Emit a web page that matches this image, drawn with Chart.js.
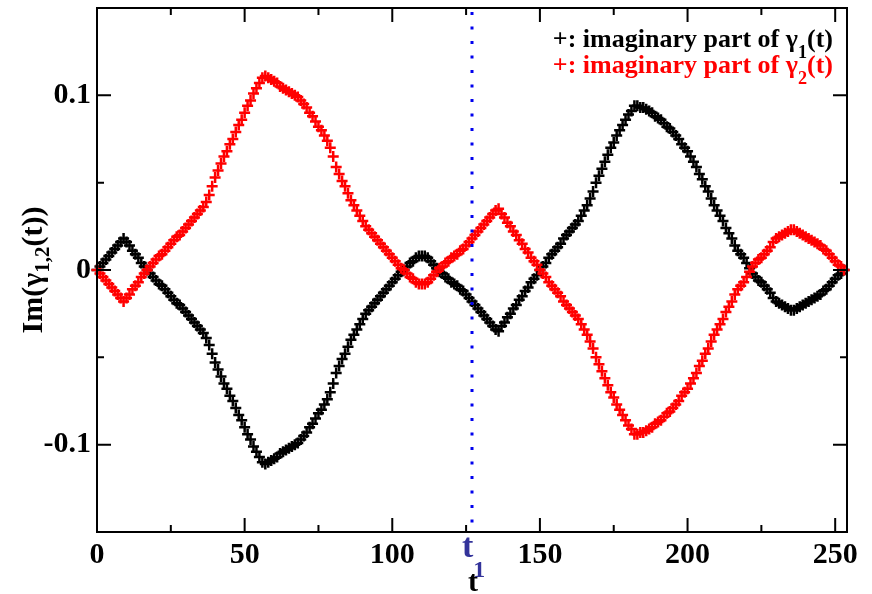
<!DOCTYPE html>
<html>
<head>
<meta charset="utf-8">
<script src="https://cdn.jsdelivr.net/npm/chart.js@4.4.0/dist/chart.umd.min.js"></script>
<title>Im gamma</title>
<style>
    html, body { margin: 0; padding: 0; background: #fff; }
</style>
</head>
<body>
<canvas id="im-chart" width="872" height="594"></canvas>

<script>
    // time steps
    var tSteps = [
        0, 1, 2, 3, 4, 5, 6, 7, 8, 9,
        10, 11, 12, 13, 14, 15, 16, 17, 18, 19,
        20, 21, 22, 23, 24, 25, 26, 27, 28, 29,
        30, 31, 32, 33, 34, 35, 36, 37, 38, 39,
        40, 41, 42, 43, 44, 45, 46, 47, 48, 49,
        50, 51, 52, 53, 54, 55, 56, 57, 58, 59,
        60, 61, 62, 63, 64, 65, 66, 67, 68, 69,
        70, 71, 72, 73, 74, 75, 76, 77, 78, 79,
        80, 81, 82, 83, 84, 85, 86, 87, 88, 89,
        90, 91, 92, 93, 94, 95, 96, 97, 98, 99,
        100, 101, 102, 103, 104, 105, 106, 107, 108, 109,
        110, 111, 112, 113, 114, 115, 116, 117, 118, 119,
        120, 121, 122, 123, 124, 125, 126, 127, 128, 129,
        130, 131, 132, 133, 134, 135, 136, 137, 138, 139,
        140, 141, 142, 143, 144, 145, 146, 147, 148, 149,
        150, 151, 152, 153, 154, 155, 156, 157, 158, 159,
        160, 161, 162, 163, 164, 165, 166, 167, 168, 169,
        170, 171, 172, 173, 174, 175, 176, 177, 178, 179,
        180, 181, 182, 183, 184, 185, 186, 187, 188, 189,
        190, 191, 192, 193, 194, 195, 196, 197, 198, 199,
        200, 201, 202, 203, 204, 205, 206, 207, 208, 209,
        210, 211, 212, 213, 214, 215, 216, 217, 218, 219,
        220, 221, 222, 223, 224, 225, 226, 227, 228, 229,
        230, 231, 232, 233, 234, 235, 236, 237, 238, 239,
        240, 241, 242, 243, 244, 245, 246, 247, 248, 249,
        250, 251, 252, 253
    ];

    // imaginary part of gamma_1(t) (black)
    var imagGamma1 = [
        0.000, 0.002, 0.004, 0.006, 0.008, 0.010, 0.012, 0.014, 0.016, 0.018,
        0.016, 0.014, 0.011, 0.009, 0.007, 0.004, 0.002, 0.000, -0.002, -0.004,
        -0.006, -0.008, -0.009, -0.011, -0.013, -0.015, -0.017, -0.019, -0.020, -0.022,
        -0.024, -0.026, -0.028, -0.030, -0.032, -0.034, -0.036, -0.039, -0.043, -0.048,
        -0.053, -0.057, -0.061, -0.065, -0.068, -0.072, -0.075, -0.079, -0.083, -0.086,
        -0.090, -0.094, -0.097, -0.101, -0.104, -0.107, -0.110, -0.111, -0.110, -0.109,
        -0.108, -0.107, -0.105, -0.104, -0.103, -0.102, -0.101, -0.100, -0.099, -0.097,
        -0.095, -0.093, -0.090, -0.088, -0.085, -0.082, -0.080, -0.077, -0.074, -0.070,
        -0.065, -0.059, -0.055, -0.051, -0.048, -0.044, -0.040, -0.037, -0.034, -0.031,
        -0.028, -0.025, -0.023, -0.021, -0.019, -0.017, -0.015, -0.013, -0.011, -0.009,
        -0.007, -0.005, -0.003, -0.001, 0.000, 0.002, 0.004, 0.005, 0.007, 0.008,
        0.008, 0.008, 0.007, 0.005, 0.003, 0.001, -0.001, -0.002, -0.004, -0.005,
        -0.007, -0.008, -0.009, -0.011, -0.012, -0.014, -0.016, -0.018, -0.020, -0.022,
        -0.024, -0.026, -0.028, -0.030, -0.032, -0.034, -0.035, -0.032, -0.030, -0.027,
        -0.025, -0.022, -0.020, -0.017, -0.015, -0.012, -0.010, -0.007, -0.005, -0.003,
        0.000, 0.002, 0.004, 0.007, 0.009, 0.011, 0.013, 0.015, 0.018, 0.020,
        0.022, 0.024, 0.026, 0.028, 0.031, 0.034, 0.037, 0.041, 0.045, 0.050,
        0.054, 0.058, 0.062, 0.066, 0.070, 0.073, 0.077, 0.080, 0.083, 0.086,
        0.089, 0.091, 0.094, 0.094, 0.093, 0.093, 0.092, 0.091, 0.090, 0.088,
        0.087, 0.086, 0.084, 0.082, 0.081, 0.079, 0.077, 0.075, 0.072, 0.070,
        0.068, 0.065, 0.062, 0.059, 0.055, 0.052, 0.048, 0.045, 0.041, 0.037,
        0.034, 0.031, 0.028, 0.024, 0.021, 0.018, 0.014, 0.011, 0.009, 0.007,
        0.004, 0.001, -0.002, -0.004, -0.006, -0.007, -0.009, -0.011, -0.013, -0.016,
        -0.018, -0.019, -0.020, -0.021, -0.022, -0.023, -0.023, -0.022, -0.021, -0.020,
        -0.019, -0.018, -0.017, -0.016, -0.015, -0.014, -0.012, -0.011, -0.009, -0.007,
        -0.005, -0.003, -0.002, 0.000
    ];

    // imaginary part of gamma_2(t) (red)
    var imagGamma2 = [
        0.000, -0.002, -0.004, -0.006, -0.008, -0.010, -0.012, -0.014, -0.016, -0.018,
        -0.016, -0.014, -0.011, -0.009, -0.007, -0.004, -0.002, 0.000, 0.002, 0.004,
        0.006, 0.008, 0.009, 0.011, 0.013, 0.015, 0.017, 0.019, 0.020, 0.022,
        0.024, 0.026, 0.028, 0.030, 0.032, 0.034, 0.036, 0.039, 0.043, 0.048,
        0.053, 0.057, 0.061, 0.065, 0.068, 0.072, 0.075, 0.079, 0.083, 0.086,
        0.090, 0.094, 0.097, 0.101, 0.104, 0.107, 0.110, 0.111, 0.110, 0.109,
        0.108, 0.107, 0.105, 0.104, 0.103, 0.102, 0.101, 0.100, 0.099, 0.097,
        0.095, 0.093, 0.090, 0.088, 0.085, 0.082, 0.080, 0.077, 0.074, 0.070,
        0.065, 0.059, 0.055, 0.051, 0.048, 0.044, 0.040, 0.037, 0.034, 0.031,
        0.028, 0.025, 0.023, 0.021, 0.019, 0.017, 0.015, 0.013, 0.011, 0.009,
        0.007, 0.005, 0.003, 0.001, 0.000, -0.002, -0.004, -0.005, -0.007, -0.008,
        -0.008, -0.008, -0.007, -0.005, -0.003, -0.001, 0.001, 0.002, 0.004, 0.005,
        0.007, 0.008, 0.009, 0.011, 0.012, 0.014, 0.016, 0.018, 0.020, 0.022,
        0.024, 0.026, 0.028, 0.030, 0.032, 0.034, 0.035, 0.032, 0.030, 0.027,
        0.025, 0.022, 0.020, 0.017, 0.015, 0.012, 0.010, 0.007, 0.005, 0.003,
        0.000, -0.002, -0.004, -0.007, -0.009, -0.011, -0.013, -0.015, -0.018, -0.020,
        -0.022, -0.024, -0.026, -0.028, -0.031, -0.034, -0.037, -0.041, -0.045, -0.050,
        -0.054, -0.058, -0.062, -0.066, -0.070, -0.073, -0.077, -0.080, -0.083, -0.086,
        -0.089, -0.091, -0.094, -0.094, -0.093, -0.093, -0.092, -0.091, -0.090, -0.088,
        -0.087, -0.086, -0.084, -0.082, -0.081, -0.079, -0.077, -0.075, -0.072, -0.070,
        -0.068, -0.065, -0.062, -0.059, -0.055, -0.052, -0.048, -0.045, -0.041, -0.037,
        -0.034, -0.031, -0.028, -0.024, -0.021, -0.018, -0.014, -0.011, -0.009, -0.007,
        -0.004, -0.001, 0.002, 0.004, 0.006, 0.007, 0.009, 0.011, 0.013, 0.016,
        0.018, 0.019, 0.020, 0.021, 0.022, 0.023, 0.023, 0.022, 0.021, 0.020,
        0.019, 0.018, 0.017, 0.016, 0.015, 0.014, 0.012, 0.011, 0.009, 0.007,
        0.005, 0.003, 0.002, 0.000
    ];

    // axis ticks
    var xMajorTicks = [0, 50, 100, 150, 200, 250];
    var xMinorTicks = [25, 75, 125, 175, 225];
    var yMajorTicks = [-0.1, 0, 0.1];
    var yMinorTicks = [-0.05, 0.05];

    // t1 marker (vertical dotted line)
    var t1Marker = [127];

    var FONT = '"Liberation Serif", "Times New Roman", serif';

    // draws text made of normal and subscript parts, returns width
    function drawRun(ctx, parts, x, y, size, subOffset, draw) {
        var cx = x;
        parts.forEach(p => {
            var s = p.sub ? size * 0.7 : size;
            ctx.font = 'bold ' + s + 'px ' + FONT;
            if (draw) {
                ctx.fillText(p.text, cx, y + (p.sub ? subOffset : 0));
            }
            cx += ctx.measureText(p.text).width;
        });
        return cx - x;
    }

    var framePlugin = {
        id: 'frame',
        afterDatasetsDraw(chart) {
            var ctx = chart.ctx;
            var area = chart.chartArea;
            var xs = chart.scales.x;
            // dotted line at t1
            ctx.save();
            ctx.strokeStyle = '#0000ee';
            ctx.lineWidth = 3;
            ctx.setLineDash([3, 11.5]);
            t1Marker.forEach(t => {
                var px = xs.getPixelForValue(t);
                ctx.beginPath();
                ctx.moveTo(px, area.top + 4);
                ctx.lineTo(px, area.bottom);
                ctx.stroke();
            });
            ctx.restore();
        },
        afterDraw(chart) {
            var ctx = chart.ctx;
            var area = chart.chartArea;
            var xs = chart.scales.x;
            var ys = chart.scales.y;
            ctx.save();
            ctx.strokeStyle = '#000';
            ctx.lineWidth = 2;
            ctx.strokeRect(area.left, area.top, area.right - area.left, area.bottom - area.top);

            // inward ticks on all four sides
            ctx.beginPath();
            xMajorTicks.concat(xMinorTicks).forEach(v => {
                var len = xMajorTicks.indexOf(v) >= 0 ? 14 : 7;
                var px = xs.getPixelForValue(v);
                ctx.moveTo(px, area.bottom); ctx.lineTo(px, area.bottom - len);
                ctx.moveTo(px, area.top); ctx.lineTo(px, area.top + len);
            });
            yMajorTicks.concat(yMinorTicks).forEach(v => {
                var len = yMajorTicks.indexOf(v) >= 0 ? 14 : 7;
                var py = ys.getPixelForValue(v);
                ctx.moveTo(area.left, py); ctx.lineTo(area.left + len, py);
                ctx.moveTo(area.right, py); ctx.lineTo(area.right - len, py);
            });
            ctx.stroke();

            // legend
            ctx.textBaseline = 'alphabetic';
            ctx.textAlign = 'left';
            var leg1 = [{text: '+: imaginary part of \u03b3'}, {text: '1', sub: true}, {text: '(t)'}];
            var leg2 = [{text: '+: imaginary part of \u03b3'}, {text: '2', sub: true}, {text: '(t)'}];
            var w1 = drawRun(ctx, leg1, 0, 0, 26, 11, false);
            var w2 = drawRun(ctx, leg2, 0, 0, 26, 11, false);
            ctx.fillStyle = '#000';
            drawRun(ctx, leg1, 833 - w1, 47, 26, 11, true);
            ctx.fillStyle = '#ff0000';
            drawRun(ctx, leg2, 833 - w2, 73, 26, 11, true);

            // t1 label under the axis
            var tx = xs.getPixelForValue(t1Marker[0]);
            ctx.fillStyle = '#33339a';
            var tl = [{text: 't'}, {text: '1', sub: true}];
            drawRun(ctx, tl, tx - 10, 557, 34, 20, true);

            // x axis title
            ctx.fillStyle = '#000';
            ctx.font = 'bold 30px ' + FONT;
            ctx.textAlign = 'center';
            ctx.fillText('t', (area.left + area.right) / 2 + 1, 591);

            // y axis title (rotated)
            ctx.textAlign = 'left';
            var yt = [{text: 'Im(\u03b3'}, {text: '1,2', sub: true}, {text: '(t))'}];
            var wy = drawRun(ctx, yt, 0, 0, 30, 7, false);
            ctx.translate(42, (area.top + area.bottom) / 2 + wy / 2);
            ctx.rotate(-Math.PI / 2);
            drawRun(ctx, yt, 0, 0, 30, 7, true);
            ctx.restore();
        }
    };

    var tickFont = {family: FONT, size: 30, weight: 'bold'};

    var imChart = new Chart(document.getElementById('im-chart'), {
        type: 'scatter',
        data: {
            datasets: [{
                label: 'imaginary part of gamma1(t)',
                data: tSteps.map((t, i) => ({x: t, y: imagGamma1[i]})),
                pointStyle: 'cross',
                pointRadius: 5.5,
                pointBorderWidth: 2.5,
                borderColor: '#000000',
                backgroundColor: '#000000',
                showLine: false,
                clip: false,
                order: 2
            }, {
                label: 'imaginary part of gamma2(t)',
                data: tSteps.map((t, i) => ({x: t, y: imagGamma2[i]})),
                pointStyle: 'cross',
                pointRadius: 5.5,
                pointBorderWidth: 2.5,
                borderColor: '#ff0000',
                backgroundColor: '#ff0000',
                showLine: false,
                clip: false,
                order: 1
            }]
        },
        options: {
            responsive: false,
            animation: false,
            events: [],
            layout: {padding: {top: 8, right: 25, left: 0, bottom: 0}},
            plugins: {
                legend: {display: false},
                tooltip: {enabled: false}
            },
            scales: {
                x: {
                    type: 'linear',
                    min: 0,
                    max: 254,
                    grid: {display: false, drawTicks: false},
                    border: {display: false},
                    ticks: {
                        stepSize: 25,
                        includeBounds: false,
                        autoSkip: false,
                        maxRotation: 0,
                        padding: 5,
                        color: '#000',
                        font: tickFont,
                        callback: v => (v % 50 === 0 ? String(v) : '')
                    },
                    afterFit: s => { s.height = 62; s.paddingLeft = 0; s.paddingRight = 0; }
                },
                y: {
                    type: 'linear',
                    min: -0.15,
                    max: 0.15,
                    grid: {display: false, drawTicks: false},
                    border: {display: false},
                    ticks: {
                        stepSize: 0.05,
                        includeBounds: false,
                        autoSkip: false,
                        padding: 6,
                        color: '#000',
                        font: tickFont,
                        callback: v => {
                            var r = Math.round(v * 100);
                            if (r % 10 !== 0) return '';
                            return r === 0 ? '0' : String(r / 100);
                        }
                    },
                    afterFit: s => { s.width = 97; s.paddingTop = 0; s.paddingBottom = 0; }
                }
            }
        },
        plugins: [framePlugin]
    });
</script>
</body>
</html>
